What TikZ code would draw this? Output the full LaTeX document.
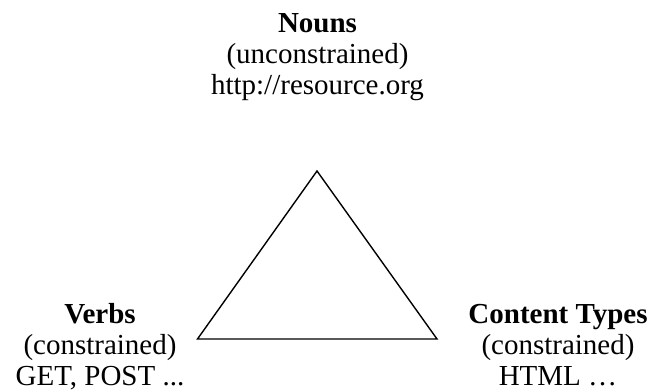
\documentclass[tikz,border=0pt]{standalone}
\usepackage{fontspec}
\setmainfont{Liberation Serif}
\begin{document}
\begin{tikzpicture}[x=1pt,y=-1pt,
  label/.style={align=center,anchor=base,inner sep=0pt,
    font=\fontsize{29pt}{31pt}\selectfont},
  edge/.style={line width=1.4pt,line join=miter}]
\useasboundingbox (0,0) rectangle (651,390);
% corners of the triangle
\coordinate (top) at (317,171);
\coordinate (left) at (197.5,339);
\coordinate (right) at (437,339);
\draw[edge] (top) -- (left) -- (right) -- cycle;
% the three labels (anchored on the baseline of their last line)
\node[label] (nouns) at (317.5,95) {\textbf{Nouns}\\(unconstrained)\\http://resource.org};
\node[label] (verbs) at (100,385) {\textbf{Verbs}\\(constrained)\\GET, POST ...};
\node[label] (types) at (558,385) {\textbf{Content Types}\\(constrained)\\HTML …};
\end{tikzpicture}
\end{document}
